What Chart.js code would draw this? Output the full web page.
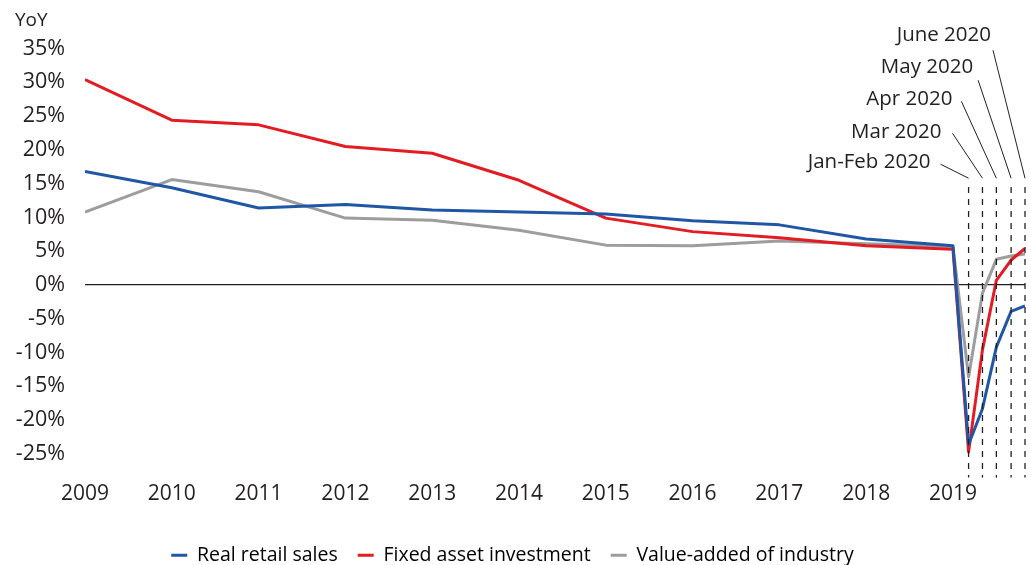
<!DOCTYPE html>
<html>
<head>
<meta charset="utf-8">
<script src="https://cdn.jsdelivr.net/npm/chart.js@4"></script>
<style>
  html, body { margin: 0; padding: 0; background: #fff; }
  #wrap { width: 1031px; height: 565px; }
</style>
</head>
<body>
<div id="wrap"><canvas id="grafico"></canvas></div>
<script>
// annual points 2009-2019, then monthly 2020 readings
const periodos = [2009, 2010, 2011, 2012, 2013, 2014, 2015, 2016, 2017, 2018, 2019,
  2019.18, 2019.34, 2019.5, 2019.67, 2019.83];
const etiquetas_anios = ['2009', '2010', '2011', '2012', '2013', '2014', '2015', '2016', '2017', '2018', '2019'];
const etiquetas_meses = ['Jan-Feb 2020', 'Mar 2020', 'Apr 2020', 'May 2020', 'June 2020'];
const ticks_y = [-25, -20, -15, -10, -5, 0, 5, 10, 15, 20, 25, 30, 35];

const ventas_retail = [16.8, 14.4, 11.4, 11.9, 11.1, 10.8, 10.5, 9.5, 8.9, 6.8, 5.8, -23.6, -18.3, -9.2, -3.9, -3.1];
const inversion_fija = [30.4, 24.4, 23.7, 20.5, 19.5, 15.5, 9.9, 7.9, 7.0, 5.8, 5.3, -24.7, -9.6, 0.7, 3.7, 5.4];
const valor_industria = [10.8, 15.6, 13.8, 9.9, 9.6, 8.1, 5.9, 5.8, 6.5, 6.1, 5.7, -13.6, -1.2, 3.8, 4.3, 4.6];

const fuente = "'Open Sans', 'Noto Sans', sans-serif";

function puntos(serie) {
  return periodos.map((x, i) => ({x: x, y: serie[i]}));
}

// dashed month markers, leader lines and labels, plus the YoY caption
const anotaciones = {
  id: 'anotaciones',
  // offsets of each leader line start from its marker top, and label shift
  guias: [[-28, -14, -10, -2], [-30, -45, -11, -1], [-35, -77, -9, -2], [-33, -98, -5, -13], [-32, -128, -2, -15]],
  afterDatasetsDraw(chart) {
    const ctx = chart.ctx;
    const xs = chart.scales.x;
    const ys = chart.scales.y;
    const abajo = chart.chartArea.bottom;
    ctx.save();
    ctx.font = '20.5px ' + fuente;
    ctx.fillStyle = '#231f20';
    ctx.textBaseline = 'middle';
    ctx.textAlign = 'right';
    etiquetas_meses.forEach((txt, k) => {
      const mx = xs.getPixelForValue(periodos[11 + k]);
      const arriba = ys.getPixelForValue(14.5);
      ctx.strokeStyle = '#231f20';
      ctx.lineWidth = 1.3;
      ctx.setLineDash([6, 6]);
      ctx.beginPath();
      ctx.moveTo(mx, arriba);
      ctx.lineTo(mx, abajo);
      ctx.stroke();
      ctx.setLineDash([]);
      const g = this.guias[k];
      const finY = ys.getPixelForValue(15.8);
      const iniX = mx + g[0];
      const iniY = finY + g[1];
      ctx.lineWidth = 1;
      ctx.beginPath();
      ctx.moveTo(iniX, iniY);
      ctx.lineTo(mx, finY);
      ctx.stroke();
      ctx.fillText(txt, iniX + g[2], iniY + g[3]);
    });
    ctx.font = '19px ' + fuente;
    ctx.textAlign = 'left';
    ctx.fillText('YoY', 15, 21);
    ctx.restore();
  }
};

const data = {
  datasets: [{
    label: 'Real retail sales',
    data: puntos(ventas_retail),
    borderColor: '#1f56a5',
    backgroundColor: '#1f56a5'
  }, {
    label: 'Fixed asset investment',
    data: puntos(inversion_fija),
    borderColor: '#e31b23',
    backgroundColor: '#e31b23'
  }, {
    label: 'Value-added of industry',
    data: puntos(valor_industria),
    borderColor: '#9d9c9e',
    backgroundColor: '#9d9c9e'
  }]
};

const config = {
  type: 'line',
  data: data,
  options: {
    responsive: true,
    maintainAspectRatio: false,
    animation: false,
    elements: {
      line: {borderWidth: 3, tension: 0, borderJoinStyle: 'round'},
      point: {radius: 0, hoverRadius: 0}
    },
    layout: {padding: {top: 48.5, right: 6, bottom: -10, left: 0}},
    scales: {
      x: {
        type: 'linear',
        min: 2009,
        max: 2019.83,
        border: {display: false},
        grid: {display: false, drawTicks: false},
        afterBuildTicks: (s) => { s.ticks = etiquetas_anios.map((_, i) => ({value: 2009 + i})); },
        afterFit: (s) => { s.height = 47.9; },
        ticks: {
          stepSize: 1,
          padding: 4,
          maxRotation: 0,
          autoSkip: false,
          color: '#231f20',
          font: {family: fuente, size: 21},
          callback: (v) => etiquetas_anios[Math.round(v) - 2009]
        }
      },
      y: {
        min: -28.5,
        max: 35,
        border: {display: false},
        grid: {
          drawTicks: false,
          lineWidth: 1.2,
          color: (c) => c.tick && c.tick.value === 0 ? '#231f20' : 'rgba(0,0,0,0)'
        },
        afterBuildTicks: (s) => { s.ticks = ticks_y.map(v => ({value: v})); },
        afterFit: (s) => { s.width = 85; },
        ticks: {
          stepSize: 5,
          padding: 20,
          autoSkip: false,
          color: '#231f20',
          font: {family: fuente, size: 21.5},
          callback: (v) => v + '%'
        }
      }
    },
    plugins: {
      tooltip: {enabled: false},
      legend: {
        position: 'bottom',
        labels: {
          boxWidth: 16,
          boxHeight: 3,
          padding: 20,
          color: '#231f20',
          font: {family: fuente, size: 19.5},
          generateLabels: (chart) => chart.data.datasets.map((d, i) => ({
            text: d.label,
            fillStyle: d.borderColor,
            strokeStyle: d.borderColor,
            lineWidth: 0,
            datasetIndex: i
          }))
        }
      }
    }
  },
  plugins: [anotaciones]
};

let myChart = new Chart(document.querySelector('#grafico').getContext('2d'), config);
</script>
</body>
</html>
